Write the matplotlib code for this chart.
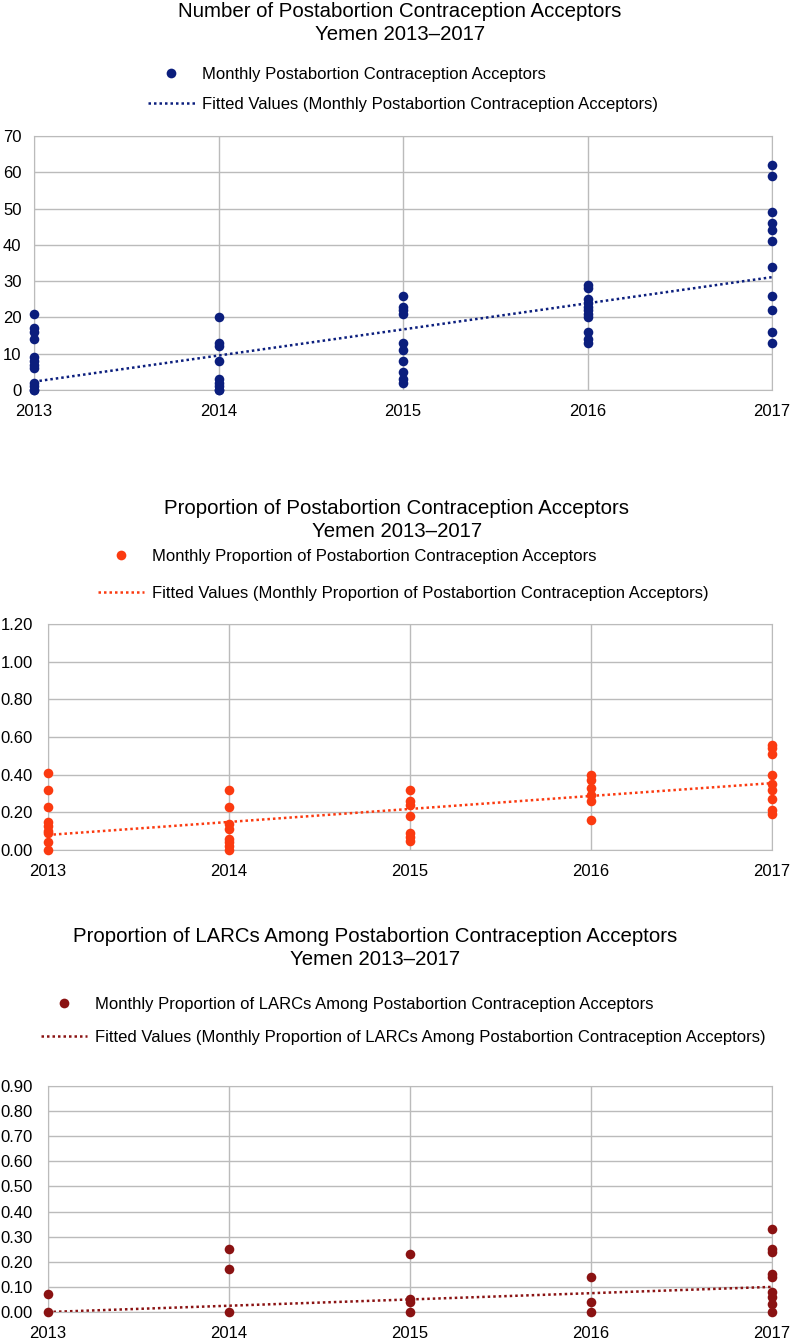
import numpy as np
import matplotlib
matplotlib.use("Agg")
from matplotlib import pyplot as plt
from matplotlib.lines import Line2D

plt.rcParams['font.family'] = ['Liberation Sans', 'DejaVu Sans']

years = [2013, 2014, 2015, 2016, 2017]

# number of acceptors per month, grouped by year
count_2013 = [21, 17, 16, 14, 9, 8, 7, 6, 2, 1, 0, 0]
count_2014 = [20, 13, 12, 8, 3, 2, 1, 0, 0]
count_2015 = [26, 23, 22, 21, 13, 11, 8, 5, 3, 2]
count_2016 = [29, 28, 25, 24, 23, 22, 21, 20, 16, 14, 13]
count_2017 = [62, 59, 49, 46, 44, 41, 34, 26, 22, 16, 13]
count_fit = [2.3, 9.5, 16.7, 23.9, 31.1]

# proportion of acceptors
prop_2013 = [0.41, 0.32, 0.23, 0.15, 0.13, 0.10, 0.09, 0.04, 0.00]
prop_2014 = [0.32, 0.23, 0.14, 0.11, 0.06, 0.04, 0.02, 0.00]
prop_2015 = [0.32, 0.26, 0.24, 0.18, 0.09, 0.07, 0.05]
prop_2016 = [0.40, 0.37, 0.33, 0.29, 0.26, 0.16]
prop_2017 = [0.56, 0.54, 0.51, 0.40, 0.35, 0.32, 0.27, 0.21, 0.19]
prop_fit = [0.08, 0.149, 0.218, 0.287, 0.355]

# proportion of LARCs
larc_2013 = [0.07, 0.0]
larc_2014 = [0.25, 0.17, 0.0]
larc_2015 = [0.23, 0.05, 0.04, 0.0]
larc_2016 = [0.14, 0.04, 0.0]
larc_2017 = [0.33, 0.25, 0.24, 0.15, 0.14, 0.08, 0.06, 0.03, 0.0]
larc_fit = [0.0, 0.025, 0.05, 0.075, 0.10]

W, H = 792, 1339
fig = plt.figure(figsize=(W / 100, H / 100), dpi=100)


def px_axes(left, top, right, bottom):
    return fig.add_axes([left / W, 1 - bottom / H, (right - left) / W, (bottom - top) / H])


def panel(ax, groups, fit, color, yticks, fmt, ypad):
    for yr, vals in zip(years, groups):
        ax.scatter([yr] * len(vals), vals, s=48, color=color, zorder=3, clip_on=False, linewidths=0)
    ax.plot(years, fit, linestyle=(0, (1, 1.2)), color=color, linewidth=1.8, zorder=2)
    ax.set_xlim(2013, 2017)
    ax.set_ylim(yticks[0], yticks[-1])
    ax.set_xticks(years)
    ax.set_yticks(yticks)
    ax.set_yticklabels([fmt % v for v in yticks])
    ax.grid(True, color='#bbbbbb', linewidth=1)
    ax.set_axisbelow(True)
    for s in ax.spines.values():
        s.set_color('#bbbbbb')
    ax.tick_params(length=0, labelsize=12, colors='black')
    ax.tick_params(axis='y', pad=ypad)
    ax.tick_params(axis='x', pad=10)


def legend(ycenter, spacing, color, lab1, lab2):
    h1 = Line2D([], [], marker='o', linestyle='none', color=color, markersize=7, markeredgewidth=0)
    h2 = Line2D([], [], linestyle=(0, (1, 1.2)), color=color, linewidth=1.8)
    fig.legend([h1, h2], [lab1, lab2], loc='center', bbox_to_anchor=(403 / W, 1 - ycenter / H),
               frameon=False, fontsize=12, handlelength=2.8, handletextpad=0.45,
               labelspacing=spacing, alignment='left')


def title(xc, yc, text):
    fig.text(xc / W, 1 - yc / H, text, ha='center', va='center', fontsize=14.7, linespacing=1.3)


navy = '#0b1e7d'
orange = '#fb3a10'
darkred = '#8a1212'

ax1 = px_axes(34, 136, 772, 390)
panel(ax1, [count_2013, count_2014, count_2015, count_2016, count_2017], count_fit, navy,
      list(range(0, 71, 10)), '%d', 9)
title(400, 23, 'Number of Postabortion Contraception Acceptors\nYemen 2013\u20132017')
legend(89, 0.9, navy, 'Monthly Postabortion Contraception Acceptors',
       'Fitted Values (Monthly Postabortion Contraception Acceptors)')

ax2 = px_axes(48, 624, 772, 850)
panel(ax2, [prop_2013, prop_2014, prop_2015, prop_2016, prop_2017], prop_fit, orange,
      [0.0, 0.2, 0.4, 0.6, 0.8, 1.0, 1.2], '%.2f', 11)
title(397, 520, 'Proportion of Postabortion Contraception Acceptors\nYemen 2013\u20132017')
legend(575, 1.33, orange, 'Monthly Proportion of Postabortion Contraception Acceptors',
       'Fitted Values (Monthly Proportion of Postabortion Contraception Acceptors)')

ax3 = px_axes(48, 1086, 772, 1312)
panel(ax3, [larc_2013, larc_2014, larc_2015, larc_2016, larc_2017], larc_fit, darkred,
      [round(0.1 * i, 1) for i in range(10)], '%.2f', 11)
title(375, 948, 'Proportion of LARCs Among Postabortion Contraception Acceptors\nYemen 2013\u20132017')
legend(1021, 1.1, darkred, 'Monthly Proportion of LARCs Among Postabortion Contraception Acceptors',
       'Fitted Values (Monthly Proportion of LARCs Among Postabortion Contraception Acceptors)')

fig.savefig('out.png', dpi=100)
